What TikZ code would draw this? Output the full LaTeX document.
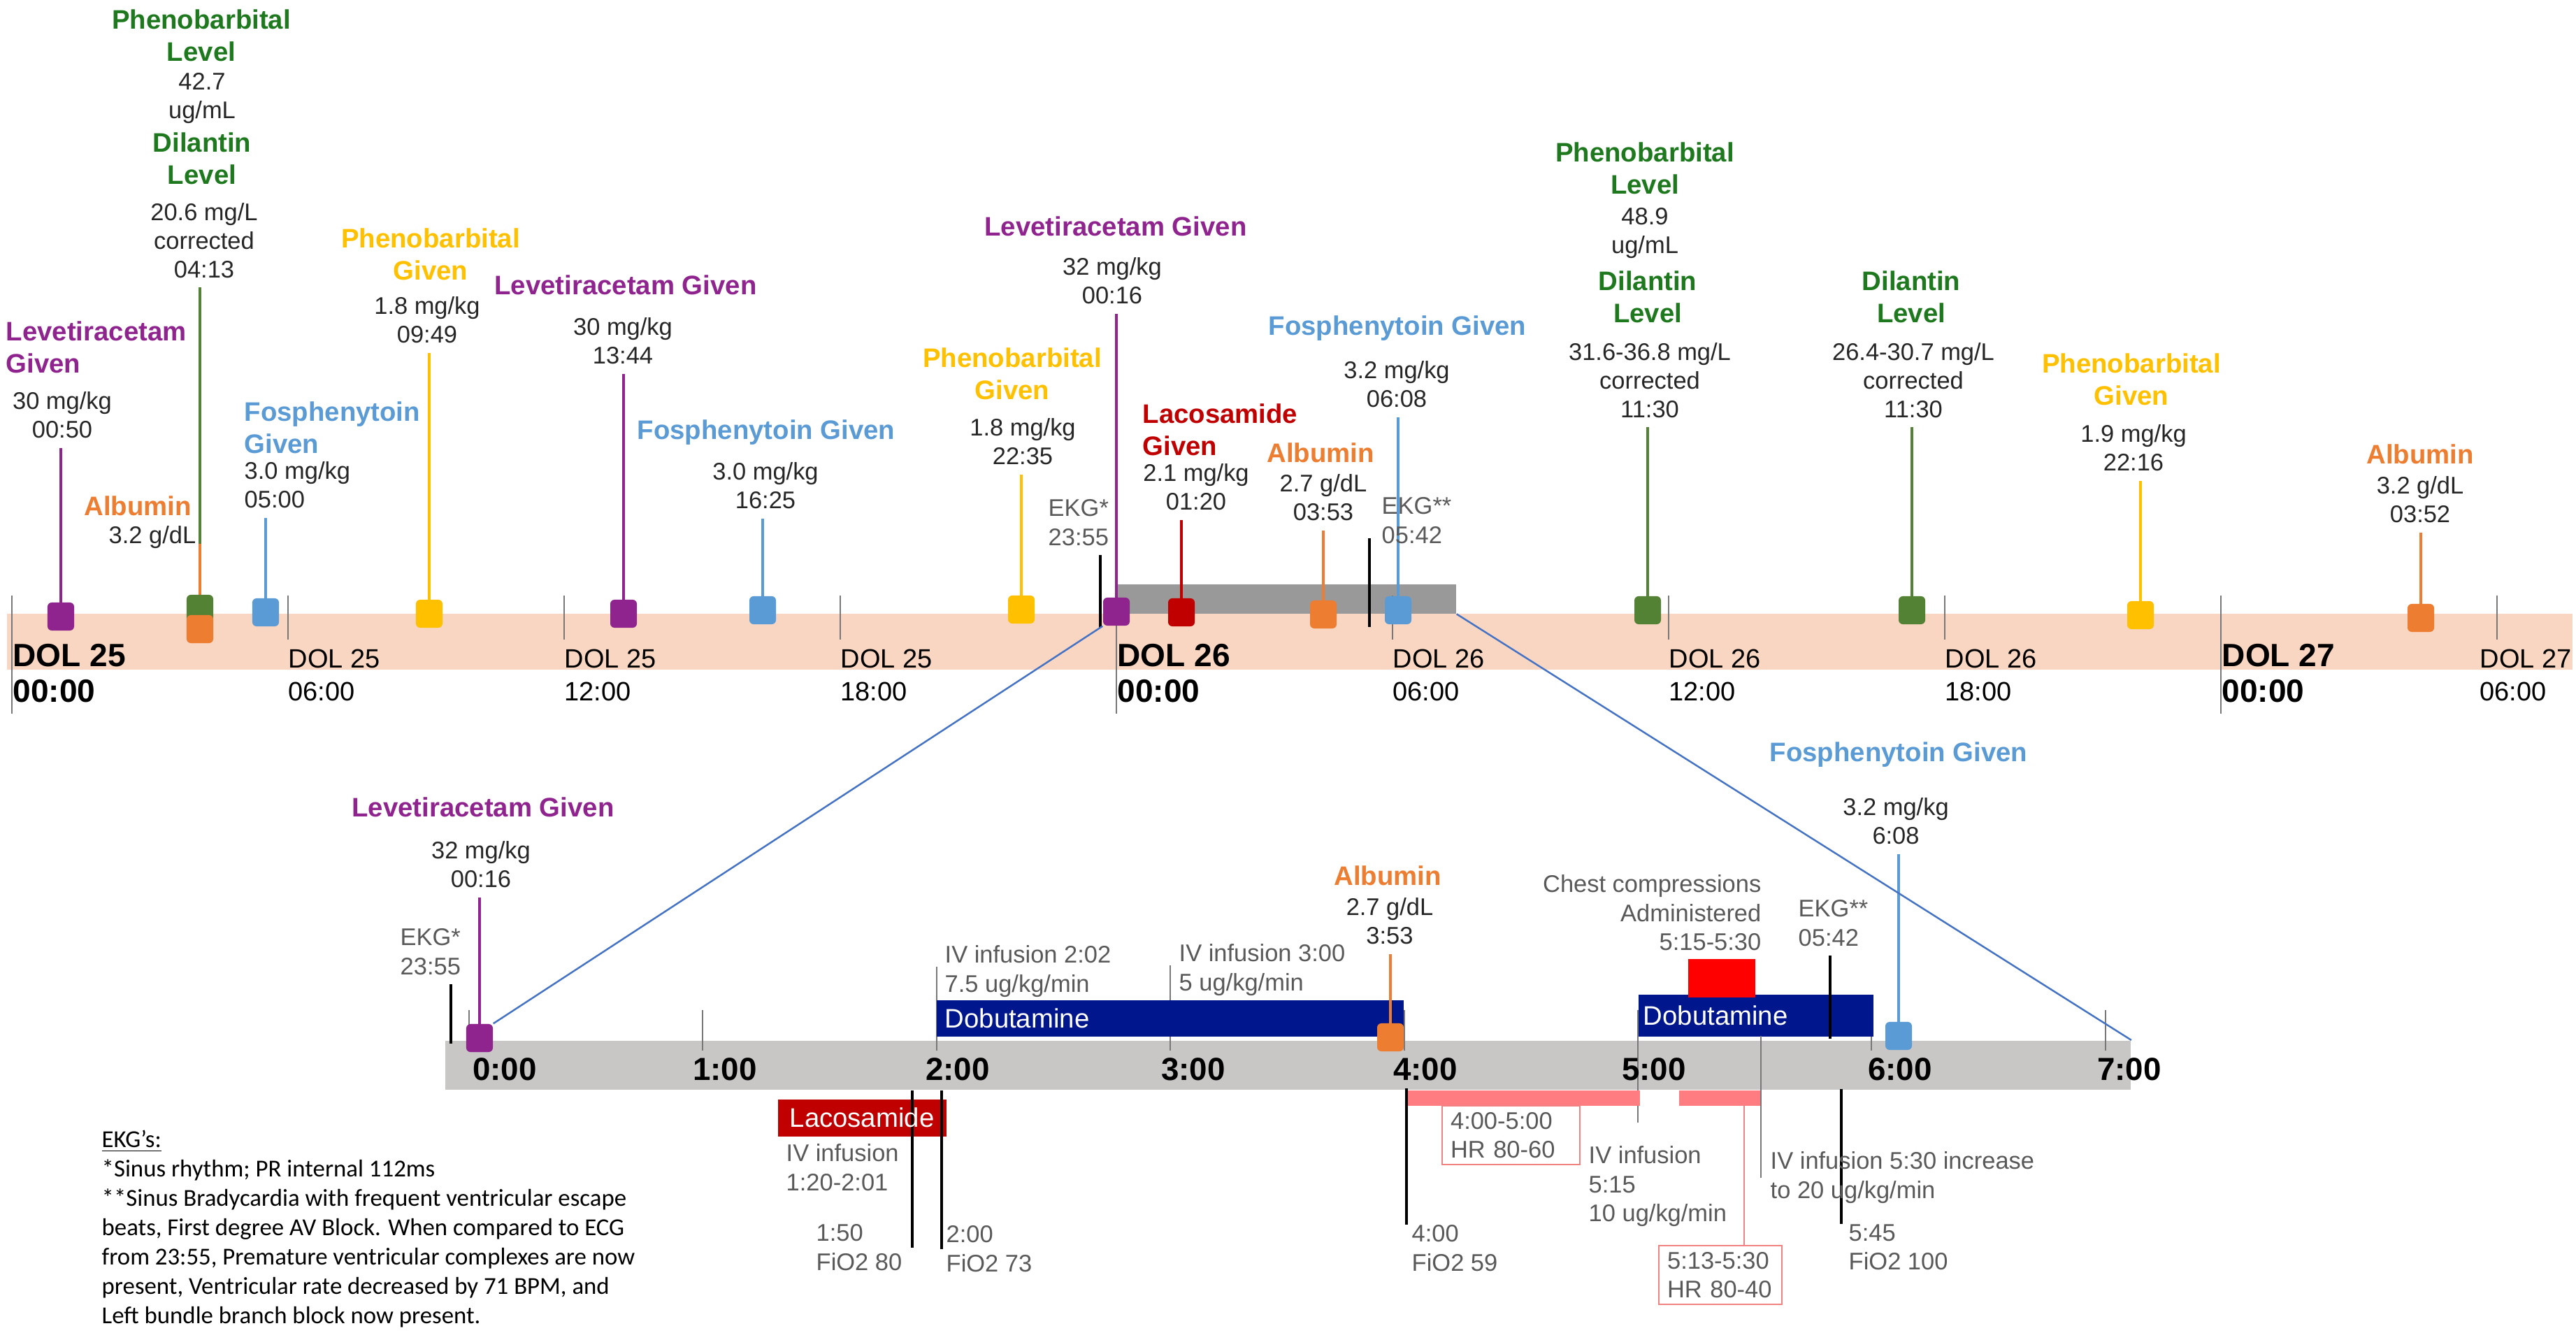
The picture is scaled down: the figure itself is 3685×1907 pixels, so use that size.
\documentclass[tikz,border=0pt]{standalone}
\usepackage{fontspec}
\setmainfont{Liberation Sans}
\newfontfamily\keyfont{Carlito}
\usetikzlibrary{positioning}
\definecolor{lev}{RGB}{143,36,143}
\definecolor{grnT}{RGB}{30,120,30}
\definecolor{grnM}{RGB}{84,130,53}
\definecolor{albO}{RGB}{237,125,49}
\definecolor{fosB}{RGB}{91,155,213}
\definecolor{phbY}{RGB}{255,192,0}
\definecolor{lacR}{RGB}{192,0,0}
\definecolor{dobN}{RGB}{0,22,140}
\definecolor{cprR}{RGB}{255,0,0}
\definecolor{bandP}{RGB}{249,214,193}
\definecolor{zoomG}{RGB}{153,153,153}
\definecolor{barG}{RGB}{201,198,198}
\definecolor{hrP}{RGB}{255,124,128}
\definecolor{hrBox}{RGB}{242,130,130}
\definecolor{zoomL}{RGB}{68,114,196}
\definecolor{valC}{RGB}{38,38,38}
\definecolor{noteC}{RGB}{89,89,89}
\definecolor{tickC}{RGB}{120,120,120}
\pgfdeclarelayer{bg}
\pgfdeclarelayer{mid}
\pgfsetlayers{bg,mid,main}

\begin{document}
\begin{tikzpicture}[
    x=0.01cm, y=-0.01cm,
    ttl/.style={font=\fontsize{10.9}{13}\selectfont\bfseries, inner sep=0pt, align=center, anchor=north},
    val/.style={font=\fontsize{9.8}{11.6}\selectfont, text=valC, inner sep=0pt, align=center, anchor=north},
    note/.style={font=\fontsize{9.8}{11.8}\selectfont, text=noteC, inner sep=0pt, align=left, anchor=north west},
    mk/.style={rectangle, rounded corners=0.6mm, minimum width=0.38cm, minimum height=0.40cm, inner sep=0pt},
    stem/.style={line width=0.9pt, shorten >=0.13cm},
    ekgln/.style={line width=0.9pt, black},
    hrtick/.style={line width=0.6pt, tickC},
    dol/.style={font=\fontsize{10.8}{13.4}\selectfont, inner sep=0pt, align=left, anchor=north west},
    dolb/.style={font=\fontsize{13.1}{14.5}\selectfont\bfseries, inner sep=0pt, align=left, anchor=north west},
    hour/.style={font=\fontsize{13}{14}\selectfont\bfseries, inner sep=0pt},
    slab/.style={inner sep=0pt, anchor=north west},
    bartxt/.style={font=\fontsize{10.9}{13}\selectfont, text=white, inner sep=0pt, anchor=west},
    hrbox/.style={draw=hrBox, line width=0.6pt, font=\fontsize{9.8}{11.8}\selectfont, text=noteC, align=left, inner xsep=0.12cm, inner ysep=0.09cm, anchor=north west},
    zoomln/.style={zoomL, line width=0.7pt},
  ]
  \useasboundingbox (0,0) rectangle (3685,1907);

  %% ---------------- top: DOL 25 to DOL 27 ----------------
  \begin{pgfonlayer}{bg}
    \fill[bandP] (10,878) rectangle (3680,958);
    \node[slab, fill=zoomG, minimum width=4.86cm, minimum height=0.42cm] (gbox) at (1596,835) {};
    \foreach \i in {1,2,3,5,6,7,9} { \draw[hrtick] ({17+395*\i},852) -- ({17+395*\i},915); }
    \foreach \i in {0,4,8} { \draw[hrtick] ({17+395*\i},852) -- ({17+395*\i},1021); }
  \end{pgfonlayer}
  \foreach \i/\d in {0/25,4/26,8/27} { \node[dolb] (dolb\i) at ({18+395*\i},921) {DOL \d\\00:00}; }
  \foreach \i/\d/\h in {1/25/06:00,2/25/12:00,3/25/18:00,5/26/06:00,6/26/12:00,7/26/18:00} {
    \node[dol] (dol\i) at ({17+395*\i},928) {DOL \d\\\h};
  }
  \node[dol] (dol9) at (3547,928) {DOL 27\\06:00};

  % events above the band
  \node[ttl, text=lev, anchor=north west, align=left] (lev1t) at (8,459) {Levetiracetam\\Given};
  \node[val] (lev1v) at (89,560) {30 mg/kg\\00:50};
  \node[mk, fill=lev] (lev1m) at (87,882) {};

  \node[ttl, text=grnT] (grn1t) at (288,13) {Phenobarbital\\Level};
  \node[val] (grn1v) at (289,104) {42.7\\ug/mL};
  \node[ttl, text=grnT] (grn1d) at (289,189) {Dilantin\\Level};
  \node[val] (grn1w) at (292,290) {20.6 mg/L\\corrected\\04:13};
  \node[mk, fill=grnM] (grn1m) at (286,871) {};

  \node[ttl, text=albO] (alb1t) at (197,709) {Albumin};
  \node[val, anchor=north east] (alb1v) at (281,752) {3.2 g/dL};
  \node[mk, fill=albO] (alb1m) at (286,900) {};

  \node[ttl, text=fosB, anchor=north west, align=left] (fos1t) at (349,574) {Fosphenytoin\\Given};
  \node[val, anchor=north west, align=left] (fos1v) at (349,660) {3.0 mg/kg\\05:00};
  \node[mk, fill=fosB] (fos1m) at (380,876) {};

  \node[ttl, text=phbY] (phb1t) at (616,326) {Phenobarbital\\Given};
  \node[val] (phb1v) at (611,424) {1.8 mg/kg\\09:49};
  \node[mk, fill=phbY] (phb1m) at (614,878) {};

  \node[ttl, text=lev] (lev2t) at (895,393) {Levetiracetam Given};
  \node[val] (lev2v) at (891,454) {30 mg/kg\\13:44};
  \node[mk, fill=lev] (lev2m) at (892,878) {};

  \node[ttl, text=fosB] (fos2t) at (1096,600) {Fosphenytoin Given};
  \node[val] (fos2v) at (1095,661) {3.0 mg/kg\\16:25};
  \node[mk, fill=fosB] (fos2m) at (1091,873) {};

  \node[ttl, text=phbY] (phb2t) at (1448,497) {Phenobarbital\\Given};
  \node[val] (phb2v) at (1463,598) {1.8 mg/kg\\22:35};
  \node[mk, fill=phbY] (phb2m) at (1461,872) {};

  \node[ttl, text=lev] (lev3t) at (1596,309) {Levetiracetam Given};
  \node[val] (lev3v) at (1591,368) {32 mg/kg\\00:16};
  \node[mk, fill=lev] (lev3m) at (1597,875) {};

  \node[note] (ekg1t) at (1499,714) {EKG*\\23:55};
  \coordinate (ekg1b) at (1574,898);

  \node[ttl, text=lacR, anchor=north west, align=left] (lac1t) at (1634,577) {Lacosamide\\Given};
  \node[val] (lac1v) at (1711,663) {2.1 mg/kg\\01:20};
  \node[mk, fill=lacR] (lac1m) at (1690,876) {};

  \node[ttl, text=albO] (alb2t) at (1889,633) {Albumin};
  \node[val] (alb2v) at (1893,678) {2.7 g/dL\\03:53};
  \node[mk, fill=albO] (alb2m) at (1893,879) {};

  \node[note] (ekg2t) at (1976,711) {EKG**\\05:42};
  \coordinate (ekg2a) at (1959,770);
  \coordinate (ekg2b) at (1959,897);

  \node[ttl, text=fosB] (fos3t) at (1999,451) {Fosphenytoin Given};
  \node[val] (fos3v) at (1998,516) {3.2 mg/kg\\06:08};
  \node[mk, fill=fosB] (fos3m) at (2000,873) {};

  \node[ttl, text=grnT] (grn2t) at (2353,203) {Phenobarbital\\Level};
  \node[val] (grn2v) at (2353,297) {48.9\\ug/mL};
  \node[ttl, text=grnT] (grn2d) at (2357,387) {Dilantin\\Level};
  \node[val] (grn2w) at (2360,490) {31.6-36.8 mg/L\\corrected\\11:30};
  \node[mk, fill=grnM] (grn2m) at (2357,873) {};

  \node[ttl, text=grnT] (grn3d) at (2734,387) {Dilantin\\Level};
  \node[val] (grn3w) at (2737,490) {26.4-30.7 mg/L\\corrected\\11:30};
  \node[mk, fill=grnM] (grn3m) at (2735,873) {};

  \node[ttl, text=phbY] (phb3t) at (3049,505) {Phenobarbital\\Given};
  \node[val] (phb3v) at (3052,607) {1.9 mg/kg\\22:16};
  \node[mk, fill=phbY] (phb3m) at (3062,880) {};

  \node[ttl, text=albO] (alb3t) at (3462,635) {Albumin};
  \node[val] (alb3v) at (3462,681) {3.2 g/dL\\03:52};
  \node[mk, fill=albO] (alb3m) at (3463,884) {};

  %% ---------------- bottom: DOL 26, 0:00 to 7:00 ----------------
  \begin{pgfonlayer}{bg}
    \node[slab, fill=barG, minimum width=24.10cm, minimum height=0.70cm] (zbar) at (636,1488) {};
    \foreach \h in {0,...,7} { \draw[hrtick] ({671+334.4*\h},1445) -- ({671+334.4*\h},1503); }
    \draw[hrtick] (1340,1383) -- (1340,1503);
    \draw[hrtick] (1674,1381) -- (1674,1503);
    \draw[hrtick] (2343,1454) -- (2343,1606);
    \node[slab, fill=dobN, minimum width=6.68cm, minimum height=0.52cm] (dob1) at (1339,1430) {};
    \node[slab, fill=dobN, minimum width=3.36cm, minimum height=0.60cm] (dob2) at (2343,1422) {};
    \node[slab, fill=cprR, minimum width=0.96cm, minimum height=0.55cm] (cpr) at (2414,1371) {};
    \node[slab, fill=lacR, minimum width=2.41cm, minimum height=0.53cm] (lacb) at (1112,1572) {};
    \node[slab, fill=hrP, minimum width=3.33cm, minimum height=0.22cm] (hr1) at (2012,1559) {};
    \node[slab, fill=hrP, minimum width=1.18cm, minimum height=0.22cm] (hr2) at (2401,1559) {};
  \end{pgfonlayer}
  \foreach \h/\c in {0/722,1/1037,2/1370,3/1707,4/2039,5/2366,6/2718,7/3046} {
    \node[hour] (hl\h) at (\c,1530) {\h:00};
  }
  \node[bartxt, right=0.12cm of dob1.west] (dob1l) {Dobutamine};
  \node[bartxt, right=0.07cm of dob2.west] (dob2l) {Dobutamine};
  \node[bartxt, right=0.17cm of lacb.west] (lacbl) {Lacosamide};

  % events above the bar
  \node[ttl, text=lev] (lev4t) at (691,1140) {Levetiracetam Given};
  \node[val] (lev4v) at (688,1203) {32 mg/kg\\00:16};
  \node[mk, fill=lev] (lev4m) at (686,1485) {};
  \node[note] (ekg3t) at (572,1328) {EKG*\\23:55};
  \coordinate (ekg3b) at (645,1493);

  \node[note] (iv1) at (1351,1352) {IV infusion 2:02\\7.5 ug/kg/min};
  \node[note] (iv2) at (1686,1350) {IV infusion 3:00\\5 ug/kg/min};

  \node[ttl, text=albO] (alb4t) at (1985,1238) {Albumin};
  \node[val] (alb4v) at (1988,1284) {2.7 g/dL\\3:53};
  \node[mk, fill=albO] (alb4m) at (1989,1484) {};

  \node[note, anchor=north east, align=right] (cprt) at (2520,1251) {Chest compressions\\Administered\\5:15-5:30};
  \node[note] (ekg4t) at (2572,1287) {EKG**\\05:42};
  \coordinate (ekg4b) at (2618,1486);

  \node[ttl, text=fosB] (fos4t) at (2716,1061) {Fosphenytoin Given};
  \node[val] (fos4v) at (2712,1141) {3.2 mg/kg\\6:08};
  \node[mk, fill=fosB] (fos4m) at (2716,1482) {};

  % events below the bar
  \node[note] (lacn) at (1124,1636) {IV infusion\\1:20-2:01};
  \node[note] (fio1) at (1167,1751) {1:50\\FiO2 80};
  \node[note] (fio2) at (1353,1753) {2:00\\FiO2 73};
  \node[note] (fio3) at (2019,1752) {4:00\\FiO2 59};
  \node[note] (iv3) at (2272,1639) {IV infusion\\5:15\\10 ug/kg/min};
  \node[note] (iv4) at (2532,1647) {IV infusion 5:30 increase\\to 20 ug/kg/min};
  \node[note] (fio4) at (2644,1751) {5:45\\FiO2 100};
  \node[hrbox, text width=1.73cm] (hrb1) at (2062,1581) {4:00-5:00\\HR 80-60};
  \node[hrbox, text width=1.52cm] (hrb2) at (2372,1781) {5:13-5:30\\HR 80-40};
  \coordinate (fio1a) at (1305,1560);
  \coordinate (fio2a) at (1347,1560);
  \coordinate (fio3a) at (2012,1557);
  \coordinate (fio4a) at (2634,1558);
  \coordinate (iv4a) at (2519,1482);
  \coordinate (hr2drop) at (2495,1581);

  %% ---------------- stems and leaders ----------------
  \begin{pgfonlayer}{mid}
    \foreach \m/\v/\c in {lev1m/lev1v/lev, grn1m/grn1w/grnM, fos1m/fos1v/fosB, phb1m/phb1v/phbY,
        lev2m/lev2v/lev, fos2m/fos2v/fosB, phb2m/phb2v/phbY, lev3m/lev3v/lev, lac1m/lac1v/lacR,
        alb2m/alb2v/albO, fos3m/fos3v/fosB, grn2m/grn2w/grnM, grn3m/grn3w/grnM, phb3m/phb3v/phbY,
        alb3m/alb3v/albO, lev4m/lev4v/lev, alb4m/alb4v/albO, fos4m/fos4v/fosB} {
      \draw[stem, draw=\c] (\m.center) -- (\m |- \v.south);
    }
    \draw[stem, draw=albO, shorten >=0pt] (alb1m.center) -- (alb1m |- alb1v.base);
    \draw[ekgln, shorten >=0.13cm] (ekg1b) -- (ekg1b |- ekg1t.south);
    \draw[ekgln] (ekg2b) -- (ekg2a);
    \draw[ekgln, shorten >=0.13cm] (ekg3b) -- (ekg3b |- ekg3t.south);
    \draw[ekgln, shorten >=0.13cm] (ekg4b) -- (ekg4b |- ekg4t.south);
    \draw[ekgln] (fio1a) -- (fio1a |- fio1.center);
    \draw[ekgln] (fio2a) -- (fio2a |- fio2.center);
    \draw[ekgln] (fio3a) -- (fio3a |- fio3.north);
    \draw[ekgln] (fio4a) -- (fio4a |- fio4.north);
    \draw[hrtick] (iv4a) -- (iv4a |- iv4.center);
    \draw[hrBox, line width=0.6pt] (hr2drop) -- (hr2drop |- hrb2.north);
    \draw[zoomln] (lev3m.south west) -- (lev4m.north east);
    \draw[zoomln] (gbox.south east) -- (zbar.north east);
  \end{pgfonlayer}

  %% ---------------- key ----------------
  \node[font=\keyfont\fontsize{9.9}{11.95}\selectfont, inner sep=0pt, align=left, anchor=north west] (ekgkey) at (145,1616)
    {\underline{EKG’s:}\\{}*Sinus rhythm; PR internal 112ms\\{}**Sinus Bradycardia with frequent ventricular escape\\beats, First degree AV Block. When compared to ECG\\from 23:55, Premature ventricular complexes are now\\present, Ventricular rate decreased by 71 BPM, and\\Left bundle branch block now present.};

\end{tikzpicture}
\end{document}
